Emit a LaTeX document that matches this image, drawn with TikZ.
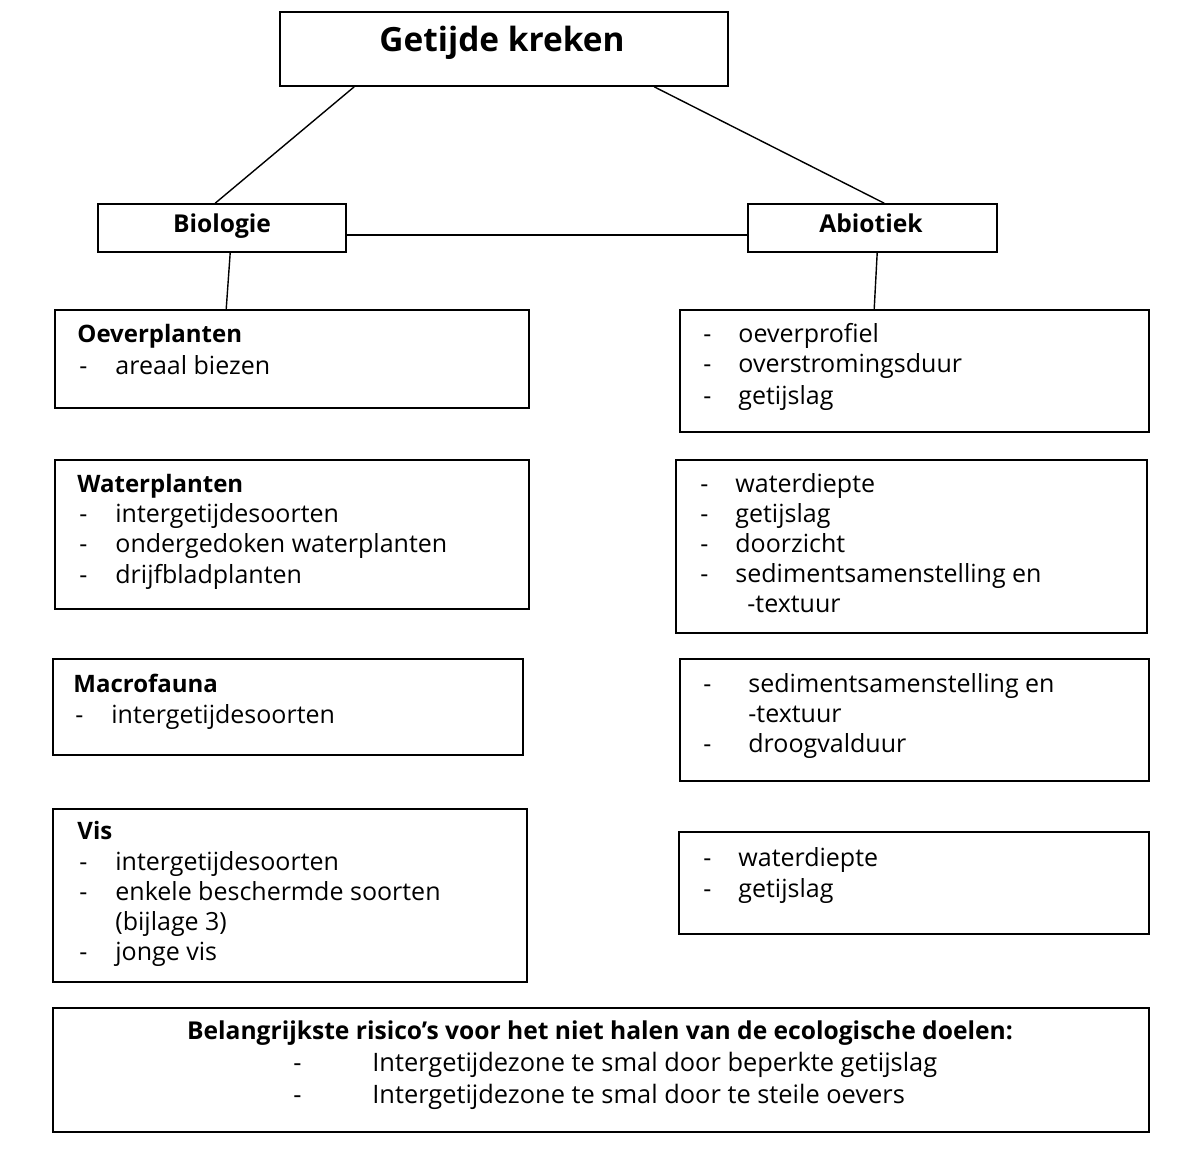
\documentclass[tikz,border=0pt]{standalone}
\usepackage{fontspec}
\setmainfont{Open Sans}
\usetikzlibrary{calc,fit}
\begin{document}
\begin{tikzpicture}[x=0.5pt,y=-0.5pt,
  box/.style={draw, line width=0.8pt, inner sep=0pt},
  tx/.style={anchor=base west, inner sep=0pt, font=\fontsize{12.5}{14}\selectfont},
  tb/.style={anchor=base west, inner sep=0pt, font=\fontsize{12}{14}\selectfont\bfseries},
  hd/.style={anchor=base, inner sep=0pt, font=\fontsize{12.3}{14}\selectfont\bfseries},
  bt/.style={anchor=base west, inner sep=0pt, font=\fontsize{12.7}{14}\selectfont},
  conn/.style={line width=0.7pt}]
\useasboundingbox (0,0) rectangle (1185,1157);
% boxes
\node[box, fit={(280,12) (728,86)}] (title) {};
\node[box, fit={(98,204) (346,252)}] (bio) {};
\node[box, fit={(748,204) (997,252)}] (abio) {};
\node[box, fit={(55,310) (529,408)}] (oever) {};
\node[box, fit={(680,310) (1149,432)}] (r1) {};
\node[box, fit={(55,460) (529,609)}] (water) {};
\node[box, fit={(676,460) (1147,633)}] (r2) {};
\node[box, fit={(53,659) (523,755)}] (macro) {};
\node[box, fit={(680,659) (1149,781)}] (r3) {};
\node[box, fit={(53,809) (527,982)}] (vis) {};
\node[box, fit={(679,832) (1149,934)}] (r4) {};
\node[box, fit={(53,1008) (1149,1132)}] (risk) {};
% headings
\node[hd, font=\fontsize{16.7}{20}\selectfont\bfseries] (ttl) at (502,51) {Getijde kreken};
\node[hd] (biot) at (222,232) {Biologie};
\node[hd] (abiot) at (871,232) {Abiotiek};
% connectors
\draw[conn] ($(title.south west)+(75,0)$) -- ($(bio.north west)+(118,0)$);
\draw[conn] ($(title.south west)+(375,0)$) -- ($(abio.north west)+(137,0)$);
\draw[conn] ($(bio.east)+(0,7)$) -- ($(abio.west)+(0,7)$);
\draw[conn] ($(bio.south west)+(133,0)$) -- ($(oever.north west)+(172,0)$);
\draw[conn] ($(abio.south west)+(130,0)$) -- ($(r1.north west)+(195,0)$);
% left texts
\node[tb] (l1) at (77,342) {Oeverplanten};
\node[tx] (l1a) at (79,374) {-}; \node[tx] (l1b) at (115,374) {areaal biezen};
\node[tb] (l2) at (77,492) {Waterplanten};
\node[tx] (l2a) at (79,522) {-}; \node[tx] (l2b) at (115,522) {intergetijdesoorten};
\node[tx] (l2c) at (79,552) {-}; \node[tx] (l2d) at (115,552) {ondergedoken waterplanten};
\node[tx] (l2e) at (79,583) {-}; \node[tx] (l2f) at (115,583) {drijfbladplanten};
\node[tb] (l3) at (73,692) {Macrofauna};
\node[tx] (l3a) at (75,723) {-}; \node[tx] (l3b) at (111,723) {intergetijdesoorten};
\node[tb] (l4) at (77,839) {Vis};
\node[tx] (l4a) at (79,870) {-}; \node[tx] (l4b) at (115,870) {intergetijdesoorten};
\node[tx] (l4c) at (79,900) {-}; \node[tx] (l4d) at (115,900) {enkele beschermde soorten};
\node[tx] (l4e) at (115,930) {(bijlage 3)};
\node[tx] (l4f) at (79,960) {-}; \node[tx] (l4g) at (115,960) {jonge vis};
% right texts
\node[tx] (a1) at (703,342) {-}; \node[tx] (a1b) at (738,342) {oeverprofiel};
\node[tx] (a2) at (703,372) {-}; \node[tx] (a2b) at (738,372) {overstromingsduur};
\node[tx] (a3) at (703,404) {-}; \node[tx] (a3b) at (738,404) {getijslag};
\node[tx] (b1) at (700,492) {-}; \node[tx] (b1b) at (735,492) {waterdiepte};
\node[tx] (b2) at (700,522) {-}; \node[tx] (b2b) at (735,522) {getijslag};
\node[tx] (b3) at (700,552) {-}; \node[tx] (b3b) at (735,552) {doorzicht};
\node[tx] (b4) at (700,582) {-}; \node[tx] (b4b) at (735,582) {sedimentsamenstelling en};
\node[tx] (b5b) at (747,612) {-textuur};
\node[tx] (c1) at (703,692) {-}; \node[tx] (c1b) at (748,692) {sedimentsamenstelling en};
\node[tx] (c2b) at (748,722) {-textuur};
\node[tx] (c3) at (703,752) {-}; \node[tx] (c3b) at (748,752) {droogvalduur};
\node[tx] (d1) at (703,866) {-}; \node[tx] (d1b) at (738,866) {waterdiepte};
\node[tx] (d2) at (703,897) {-}; \node[tx] (d2b) at (738,897) {getijslag};
% bottom
\node[hd] (rk) at (600,1039) {Belangrijkste risico's voor het niet halen van de ecologische doelen:};
\node[bt] (e1) at (293,1071) {-}; \node[bt] (e1b) at (372,1071) {Intergetijdezone te smal door beperkte getijslag};
\node[bt] (e2) at (293,1103) {-}; \node[bt] (e2b) at (372,1103) {Intergetijdezone te smal door te steile oevers};
\end{tikzpicture}
\end{document}
